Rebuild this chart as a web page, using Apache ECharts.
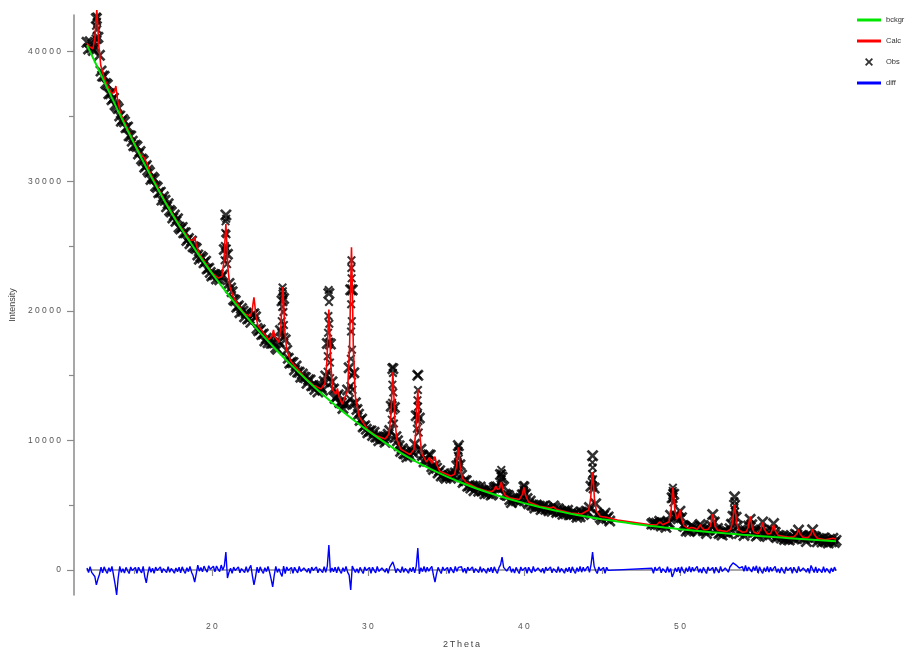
<!DOCTYPE html>
<html lang="en">
<head>
<meta charset="UTF-8">
<title>Rietveld plot</title>
<script src="https://cdn.jsdelivr.net/npm/echarts@6/dist/echarts.min.js"></script>
</head>
<body style="margin:0;background:#fff">
<div id="container" style="width:915px;height:649px"></div>
<script>
// step scan grid (2Theta)
var STEP = 0.1;
var obsStartA = 12.0;   // first block, up to 45.5
var obsStartB = 48.2;   // second block, after the excluded region
var bckgrStart = 12, bckgrStep = 1;

// background, every 1 degree from 12 to 60
var bckgr = [40500, 37950, 35400, 32950, 30600, 28400, 26400, 24600, 22900, 21330,
  19850, 18450, 17150, 15920, 14760, 13650, 12620, 11650, 10750, 9900,
  9120, 8420, 7800, 7240, 6730, 6270, 5860, 5490, 5160, 4860,
  4590, 4340, 4120, 3920, 3740, 3575, 3420, 3280, 3150, 3030,
  2920, 2820, 2720, 2630, 2540, 2455, 2375, 2295, 2220];

// observed counts, 12.0 .. 45.5
var obsA = [
  40710, 40195, 40750, 40285, 40090, 40355, 42550, 41095, 39710, 38495,
  38110, 38085, 37540, 37435, 36750, 36745, 36280, 36405, 35890, 35765,
  35600, 35035, 34630, 34755, 34580, 34125, 34180, 33495, 33480, 33085,
  32740, 32775, 32670, 32105, 32290, 31705, 31570, 31075, 31200, 30845,
  30680, 30130, 30300, 30170, 29620, 29520, 29110, 29150, 28540, 28800,
  28520, 28020, 28260, 27740, 27620, 27160, 27380, 26900, 27100, 26450,
  26310, 26430, 26010, 26010, 25420, 25570, 25180, 25380, 24940, 24890,
  24800, 24310, 23980, 24180, 24080, 23700, 23830, 23220, 23280, 22960,
  22690, 22803, 22776, 22449, 22772, 22395, 22578, 22751, 24724, 27397,
  24360, 22112, 21764, 21466, 20858, 20770, 20272, 20384, 19846, 20178,
  19970, 19530, 19830, 19370, 19410, 19110, 19690, 19770, 19530, 18640,
  18460, 18530, 18160, 18210, 17670, 17870, 17530, 17780, 17490, 17510,
  17520, 17157, 17024, 17621, 18478, 20765, 20942, 17759, 16956, 16333,
  15960, 16034, 15998, 15432, 15736, 15270, 15254, 14878, 15122, 14886,
  14840, 14399, 14678, 14657, 14216, 14225, 13924, 14203, 13742, 14171,
  14090, 13867, 14544, 14971, 17478, 21335, 17432, 14519, 13966, 13228,
  13380, 13523, 12931, 12889, 12462, 12775, 12813, 13891, 15604, 21617,
  21610, 15220, 12900, 12385, 12020, 11540, 11640, 11040, 11130, 10860,
  10580, 10715, 10730, 10385, 10630, 10270, 10265, 9970, 10275, 10125,
  10135, 9862, 10224, 10471, 10758, 12640, 15527, 12539, 10286, 9963,
  9585, 9145, 9360, 8990, 8955, 8710, 9025, 8800, 9200, 9045,
  9700, 11903, 15021, 11729, 9312, 8840, 8338, 8566, 8399, 8882,
  8860, 7959, 7753, 8077, 7856, 7480, 7664, 7258, 7382, 7206,
  7070, 7239, 7288, 7077, 7416, 7195, 7489, 8028, 9597, 8121,
  7325, 6749, 6908, 6877, 6466, 6515, 6319, 6478, 6122, 6461,
  6365, 6084, 6398, 6097, 6121, 5875, 6169, 5903, 6182, 5781,
  5890, 6343, 6411, 6404, 6232, 7360, 7158, 6421, 5834, 5767,
  5750, 5422, 5199, 5461, 5528, 5340, 5572, 5249, 5536, 5798,
  6400, 5865, 5510, 5110, 5315, 5015, 5000, 4790, 5010, 4900,
  4915, 4658, 4906, 4939, 4682, 4740, 4578, 4731, 4534, 4942,
  4775, 4440, 4720, 4475, 4505, 4295, 4565, 4345, 4600, 4260,
  4280, 4468, 4276, 4379, 4072, 4280, 4108, 4449, 4274, 4392,
  4540, 4480, 4820, 6460, 8820, 6320, 5110, 4315, 4265, 4040,
  3895, 4185, 4384, 3976, 4093, 3780];

// observed counts, 48.2 .. 60.0
var obsB = [
  3542, 3638, 3494, 3615, 3516, 3762, 3403, 3644,
  3465, 3292, 3670, 3641, 4218, 5565, 5847, 4224, 4086, 3944,
  4540, 4038, 3436, 3349, 2999, 3140, 2978, 3386, 3339, 3267,
  3170, 3024, 3038, 3512, 3321, 3030, 3139, 2823, 3097, 3121,
  3435, 4280, 3695, 3055, 3205, 2820, 2880, 2690, 2990, 2920,
  2985, 2805, 3185, 3520, 4140, 5645, 4070, 3380, 2815, 3085,
  2965, 2669, 3022, 2933, 3399, 3905, 3491, 2867, 2998, 2617,
  2720, 2971, 3092, 3708, 2914, 2835, 2576, 2827, 2723, 3074,
  3580, 2896, 2508, 2669, 2616, 2462, 2664, 2350, 2497, 2388,
  2305, 2487, 2569, 2391, 2748, 2690, 3077, 2564, 2611, 2453,
  2430, 2192, 2529, 2661, 2648, 3100, 2582, 2529, 2171, 2428,
  2380, 2162, 2460, 2232, 2280, 2087, 2375, 2172, 2445, 2122,
  2280];

// extra observed points on the strong reflections (finer steps)
var obsPeakPts = [
  [12.55, 41000], [12.58, 42000], [12.62, 42700], [12.64, 42300], [12.66, 41700], [12.68, 40900],
  [20.82, 23900], [20.84, 25000], [20.86, 26000], [20.88, 26900], [20.92, 27100], [20.94, 25900], [20.96, 24800], [20.98, 23600],
  [24.45, 18300], [24.48, 19200], [24.51, 20300], [24.53, 21800], [24.55, 21500], [24.57, 21200], [24.59, 19900], [24.62, 18900], [24.65, 18000],
  [27.42, 15300], [27.43, 16500], [27.45, 18300], [27.47, 19600], [27.49, 21600], [27.51, 20680], [27.53, 19000], [27.55, 17600], [27.57, 16000], [27.58, 14800],
  [28.86, 13200], [28.88, 14200], [28.91, 16300], [28.92, 18400], [28.93, 20500], [28.94, 23300], [28.95, 23900], [28.96, 22500], [28.97, 19200], [28.98, 17000], [28.99, 15000], [29.02, 13900], [29.04, 12900],
  [31.53, 11600], [31.55, 12900], [31.57, 14300], [31.59, 15660], [31.61, 15200], [31.63, 13700], [31.65, 12300], [31.67, 11300],
  [33.14, 10900], [33.16, 12000], [33.18, 13100], [33.19, 15050], [33.21, 13890], [33.22, 12600], [33.24, 11500], [33.26, 10600],
  [35.75, 8200], [35.77, 8800], [35.79, 9490], [35.81, 9200], [35.83, 8600], [35.85, 7900],
  [38.52, 6800], [38.54, 7450], [38.55, 7720], [38.57, 7000],
  [39.96, 5900], [39.98, 6200], [40.0, 6550], [40.03, 6100],
  [44.35, 6800], [44.37, 7400], [44.39, 8300], [44.41, 7900], [44.43, 7000], [44.45, 6500],
  [49.52, 5500], [49.54, 6100], [49.55, 6350], [49.56, 5900], [49.58, 5200],
  [53.47, 4700], [53.49, 5300], [53.52, 5000], [53.53, 4500]
];

// calculated profile
var calc = [
  [12.0, 40670], [12.13, 40400], [12.38, 40210], [12.51, 41100], [12.57, 42410], [12.63, 43200], [12.69, 42110], [12.75, 40490], [12.88, 38940], [13.13, 37850],
  [13.55, 36760], [13.75, 36850], [13.85, 37340], [13.95, 36340], [14.15, 35240], [15.0, 33010],
  [15.45, 32020], [15.65, 31830], [15.75, 31950], [15.85, 31360], [16.05, 30620], [17.0, 28460], [18.0, 26460],
  [18.6, 25465], [18.8, 25445], [18.9, 25690], [19.0, 25085], [19.2, 24405], [20.0, 22960],
  [20.4, 22527], [20.65, 22650], [20.78, 23843], [20.84, 25420], [20.9, 26687], [20.96, 25227], [21.02, 23467], [21.15, 21877], [21.4, 20993], [22.0, 19910],
  [22.2, 19710], [22.45, 19570], [22.58, 19960], [22.64, 20560], [22.7, 21030], [22.76, 20390], [22.82, 19620], [22.95, 18870],
  [23.65, 17790], [23.85, 18025], [23.95, 18515], [24.05, 17968],
  [24.3, 17572], [24.43, 18854], [24.49, 20504], [24.55, 21834], [24.61, 20356], [24.67, 18559], [24.8, 16957], [25.05, 16122], [26.0, 14820], [26.5, 14265],
  [27.0, 13972], [27.25, 14405], [27.38, 16148], [27.44, 18329], [27.5, 20095], [27.56, 18205], [27.62, 15900], [27.75, 13890], [27.95, 13556], [28.05, 14012], [28.15, 13385], [28.35, 12796],
  [28.7, 13816], [28.83, 17267], [28.89, 21482], [28.95, 24909], [29.01, 21366], [29.07, 17039], [29.2, 13345], [29.45, 11805], [30.0, 10810], [30.5, 10385],
  [31.1, 10101], [31.35, 10483], [31.48, 11952], [31.54, 13780], [31.6, 15262], [31.66, 13686], [31.72, 11764], [31.85, 10093], [32.1, 9329],
  [32.7, 8902], [32.95, 9286], [33.08, 10722], [33.14, 12502], [33.2, 13946], [33.26, 12428], [33.32, 10574], [33.45, 8972], [33.75, 8335], [33.95, 8691],
  [34.1, 8221], [34.2, 8346], [34.3, 8744], [34.4, 8169], [34.6, 7624], [35.3, 7245],
  [35.55, 7376], [35.68, 8012], [35.74, 8819], [35.8, 9472], [35.86, 8757], [35.92, 7888], [36.05, 7123], [36.3, 6750], [37.0, 6330], [37.7, 6064],
  [37.95, 6045], [38.1, 6206], [38.2, 6473], [38.3, 6226], [38.43, 6271], [38.49, 6552], [38.55, 6789], [38.61, 6453], [38.67, 6096], [38.8, 5766], [39.05, 5573],
  [39.7, 5435], [39.9, 5833], [40.0, 6380], [40.1, 5770], [40.3, 5246], [41.0, 4920], [41.7, 4771], [41.9, 4877], [42.1, 4665], [43.0, 4400], [43.7, 4315],
  [44.15, 4625], [44.28, 5534], [44.34, 6640], [44.4, 7540], [44.46, 6616], [44.52, 5486], [44.65, 4525], [44.9, 4131], [45.2, 4094], [46.0, 3850], [47.0, 3675], [48.0, 3500],
  [48.5, 3470], [48.7, 3725], [48.9, 3491], [49.3, 3728], [49.43, 4551], [49.49, 5547], [49.55, 6358], [49.61, 5612], [49.67, 4629], [49.8, 3923], [49.9, 4105], [50.0, 4655], [50.1, 3947], [50.25, 3424], [50.55, 3190],
  [50.7, 3276], [50.8, 3414], [50.9, 3252], [51.1, 3124], [51.2, 3293], [51.3, 3507], [51.4, 3271], [51.55, 3100],
  [51.8, 3135], [51.95, 3397], [52.04, 3954], [52.1, 4300], [52.16, 3942], [52.25, 3367], [52.4, 3073],
  [53.0, 2964], [53.25, 3157], [53.38, 3740], [53.44, 4446], [53.5, 5020], [53.56, 4434], [53.62, 3716], [53.75, 3107],
  [54.0, 2916], [54.25, 2950], [54.38, 3320], [54.44, 3769], [54.5, 4135], [54.56, 3759], [54.62, 3298], [54.75, 2905],
  [55.0, 2790], [55.2, 3172], [55.3, 3663], [55.4, 3154], [55.6, 2789], [55.8, 2798], [55.9, 3059], [56.0, 3500], [56.1, 3041], [56.3, 2664], [57.0, 2515],
  [57.3, 2556], [57.5, 2800], [57.6, 3117], [57.7, 2784], [57.9, 2508], [58.2, 2494], [58.4, 2778], [58.5, 3145], [58.6, 2762], [58.8, 2446], [59.3, 2332], [59.8, 2445], [60.0, 2380]
];

// difference curve, same grid as obsA / obsB
var diffA = [
  150, -200, 260, -180, -260, -500, -1150, -700, -330, 220,
  -220, 240, -60, -260, 180, -130, 270, -400, -1100, -1930,
  -600, 280, -190, 90, -240, 200, -60, -270, 230, -40,
  -150, 190, -250, 210, -30, -220, 280, -500, -1000, -250,
  250, -170, 130, -260, 220, -40, -190, 240, -210, 110,
  150, -200, 260, -180, 120, 230, -250, 160, -140, 220,
  -220, 240, -60, -260, 180, -130, 270, -170, -450, -930,
  -300, 380, -90, 190, -140, 300, 40, -170, 330, 60,
  -50, 290, -150, 310, 70, -120, 380, 0, 300, 1390,
  -620, -170, 130, -260, 220, -40, -190, 240, -210, 110,
  150, -200, 260, -180, 120, 350, -450, -1150, -550, 220,
  -220, 240, -60, -260, 180, -130, 270, -170, -700, -1300,
  -400, 280, -190, 90, -240, -500, 300, -270, 230, -40,
  -150, 190, -250, 210, -30, -220, 280, -110, -240, 160,
  250, -170, 130, -260, 220, -40, -190, 240, -210, 110,
  150, -200, 260, -180, 300, 1930, -200, 160, -140, 220,
  -220, 240, -60, -260, 180, -130, 270, -170, -400, -1540,
  300, 280, -190, 90, -240, 200, -60, -270, 230, -40,
  -150, 190, -250, 210, -30, -220, 280, -110, -240, 160,
  250, -170, 130, -260, 220, 250, 620, 240, -210, 110,
  150, -200, 260, -180, 120, 230, -250, 160, -140, 220,
  -220, 300, 1700, -300, 180, -130, 270, -170, 210, -90,
  120, 280, -400, -930, -300, 200, -60, -270, 230, -40,
  -150, 190, -250, 210, -30, -220, 280, -110, 200, 160,
  250, -170, 130, -260, 220, -40, -190, 240, -210, 110,
  150, -200, 260, -180, 120, 230, -250, 160, -140, 220,
  -220, 240, -60, -260, 180, 400, 1000, 200, 210, -90,
  120, 280, -190, 90, -240, 200, -60, -270, 230, -40,
  100, 190, -250, 210, -30, -220, 280, -110, -240, 160,
  250, -170, 130, -260, 220, -40, -190, 240, -210, 110,
  150, -200, 260, -180, 120, 230, -250, 160, -140, 220,
  -220, 240, -60, -260, 180, -130, 270, -170, 210, -90,
  120, 280, -190, 400, 1390, 300, -60, -270, 230, -40,
  -150, 200, -250, 210, -30, -20];

var diffB = [
  130, -260, 220, -40, -190, 240, -210, 110,
  150, -200, 260, -180, 120, -540, -250, 160, -140, 220,
  -220, 240, -60, -260, 180, -130, 270, -170, 210, -90,
  120, 280, -190, 90, -240, 200, -60, -270, 230, -40,
  -150, 190, -250, 210, -30, -220, 280, -110, -240, 160,
  250, -170, 230, 150, 550, 620, 380, 480, 150, 300,
  250, -100, 360, -80, 220, 330, -150, 260, -40, 320,
  -220, 240, -60, -260, 180, -130, 270, -170, 210, -90,
  120, 280, -190, 90, -240, 200, -60, -270, 230, -40,
  -150, 190, -250, 210, -30, -220, 280, -110, -240, 160,
  250, -170, 130, -260, 350, 380, -190, 240, -210, 110,
  150, -200, 260, -180, 120, 230, -250, 160, -140, 220,
  -50];

var xMajor = [20, 30, 40, 50];
var xMinor = [15, 25, 35, 45, 55];
var yMajor = [0, 10000, 20000, 30000, 40000];
var yMinor = [5000, 15000, 25000, 35000];

var FONT = "'Liberation Sans', Arial, sans-serif";
var XMARK = 'path://M0,1.6L1.6,0L5,3.4L8.4,0L10,1.6L6.6,5L10,8.4L8.4,10L5,6.6L1.6,10L0,8.4L3.4,5Z';
var LINEICON = 'path://M0,0H24V3H0Z';

function onGrid(start, step, vals) {
  return vals.map(function (v, i) {
    return [Math.round((start + i * step) * 100) / 100, v];
  });
}
function spaced(v) { return String(v).split('').join(' '); }

var obsData = onGrid(obsStartA, STEP, obsA).concat(onGrid(obsStartB, STEP, obsB));
var diffData = onGrid(obsStartA, STEP, diffA).concat(onGrid(obsStartB, STEP, diffB));
var bckgrData = onGrid(bckgrStart, bckgrStep, bckgr);

var axisCol = '#8a8a8a';
var myChart = echarts.init(document.getElementById('container'));

var option = {
  animation: false,
  backgroundColor: '#fff',
  grid: { left: 87, right: 79, top: 15, bottom: 54, outerBoundsMode: 'none' },
  legend: {
    orient: 'vertical', left: 857, top: 16, padding: 0,
    itemWidth: 24, itemHeight: 8, itemGap: 13,
    textStyle: { fontSize: 7.5, color: '#333', fontFamily: FONT, lineHeight: 8 },
    data: [
      { name: 'bckgr', icon: LINEICON },
      { name: 'Calc', icon: LINEICON },
      { name: 'Obs', icon: XMARK },
      { name: 'diff', icon: LINEICON }
    ]
  },
  xAxis: [{
    type: 'value', min: 12, max: 60, position: 'bottom', offset: 13,
    splitLine: { show: false },
    axisLine: { show: true, lineStyle: { color: axisCol, width: 1.5 } },
    axisTick: { show: true, length: 6, customValues: xMajor, lineStyle: { color: axisCol, width: 1.2 } },
    axisLabel: { customValues: xMajor, formatter: spaced, margin: 14, fontSize: 8.5, color: '#555', fontFamily: FONT },
    name: '2\u2009T\u2009h\u2009e\u2009t\u2009a', nameLocation: 'middle', nameGap: 32,
    nameTextStyle: { fontSize: 9, color: '#444', fontFamily: FONT }
  }, {
    type: 'value', min: 12, max: 60, position: 'bottom', offset: 13,
    splitLine: { show: false },
    axisLine: { show: false },
    axisTick: { show: true, length: 4, customValues: xMinor, lineStyle: { color: axisCol, width: 1.2 } },
    axisLabel: { show: false }
  }],
  yAxis: [{
    type: 'value', min: -1930, max: 42820, position: 'left', offset: 13,
    splitLine: { show: false },
    axisLine: { show: true, lineStyle: { color: axisCol, width: 1.5 } },
    axisTick: { show: true, length: 7, customValues: yMajor, lineStyle: { color: axisCol, width: 1.2 } },
    axisLabel: { customValues: yMajor, formatter: spaced, margin: 13, fontSize: 8.5, color: '#555', fontFamily: FONT },
    name: 'Intensity', nameLocation: 'middle', nameRotate: 90, nameGap: 54,
    nameTextStyle: { fontSize: 9, color: '#444', fontFamily: FONT }
  }, {
    type: 'value', min: -1930, max: 42820, position: 'left', offset: 13,
    splitLine: { show: false },
    axisLine: { show: false },
    axisTick: { show: true, length: 5, customValues: yMinor, lineStyle: { color: axisCol, width: 1.2 } },
    axisLabel: { show: false }
  }],
  series: [
    {
      name: 'Obs', type: 'scatter', data: obsData,
      symbol: XMARK, symbolSize: 12, color: '#000',
      itemStyle: { color: '#000' }
    },
    {
      name: 'Obs', type: 'scatter', data: obsPeakPts,
      symbol: XMARK, symbolSize: 9, color: '#000',
      itemStyle: { color: '#000' }
    },
    {
      name: 'Calc', type: 'line', data: calc, color: '#ff0000',
      symbol: 'none', clip: false,
      lineStyle: { color: '#ff0000', width: 1.6 }
    },
    {
      name: 'bckgr', type: 'line', data: bckgrData, color: '#00e600',
      symbol: 'none', smooth: 0.2,
      lineStyle: { color: '#00e600', width: 2 }
    },
    {
      name: 'diff', type: 'line', data: diffData, color: '#0000ff',
      symbol: 'none',
      lineStyle: { color: '#0000ff', width: 1.4 }
    }
  ]
};

myChart.setOption(option);
</script>
</body>
</html>
